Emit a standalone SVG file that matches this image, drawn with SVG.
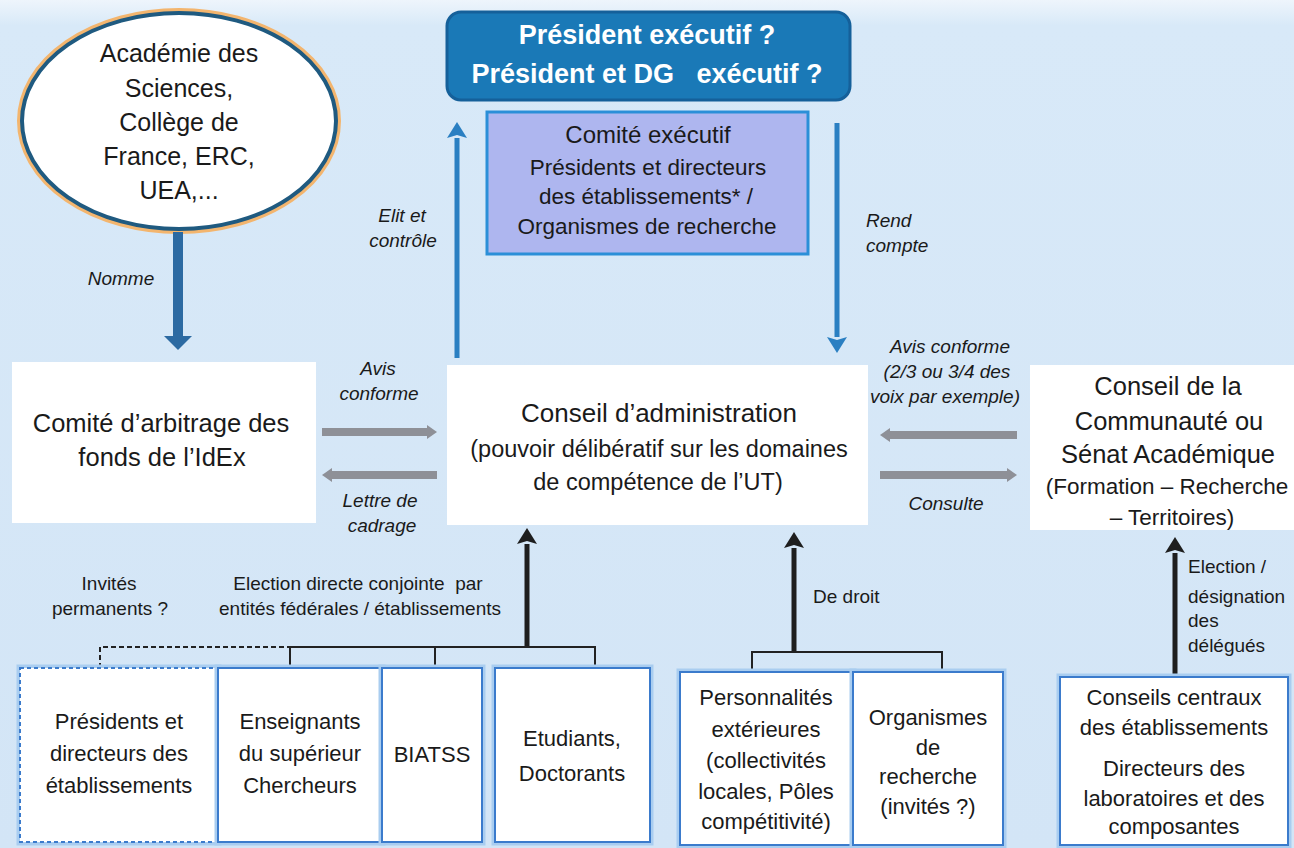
<svg xmlns="http://www.w3.org/2000/svg" width="1294" height="848" viewBox="0 0 1294 848">
<defs>
<linearGradient id="bg" x1="0" y1="0" x2="0" y2="1">
<stop offset="0" stop-color="#eef5fc"/>
<stop offset="0.03" stop-color="#d8e9f8"/>
<stop offset="1" stop-color="#d3e5f6"/>
</linearGradient>
<marker id="hBlue" markerUnits="userSpaceOnUse" viewBox="0 0 16 20" refX="0" refY="10" markerWidth="16" markerHeight="20" orient="auto"><path d="M0,0 L16,10 L0,20 L3,10 z" fill="#2a7fc2"/></marker>
<marker id="hNavy" markerUnits="userSpaceOnUse" viewBox="0 0 14 28" refX="0" refY="14" markerWidth="14" markerHeight="28" orient="auto"><path d="M0,0 L14,14 L0,28 z" fill="#2c6aa2"/></marker>
<marker id="hGrey" markerUnits="userSpaceOnUse" viewBox="0 0 10 14" refX="0" refY="7" markerWidth="10" markerHeight="14" orient="auto"><path d="M0,0 L10,7 L0,14 z" fill="#8e9097"/></marker>
<marker id="hBlack" markerUnits="userSpaceOnUse" viewBox="0 0 16 20" refX="0" refY="10" markerWidth="16" markerHeight="20" orient="auto"><path d="M0,0 L16,10 L0,20 L3,10 z" fill="#1e1e1e"/></marker>
<style>
text{font-family:"Liberation Sans",Arial,sans-serif;fill:#1a1a1a;text-anchor:middle}
.it{font-style:italic;font-size:19px}
.lb{font-size:19px}
.wbox{fill:#ffffff}
.bbox{fill:#ffffff;stroke:#3b7bcc;stroke-width:2}
.glow{fill:none;stroke:#a9cdf0;stroke-width:7}
.bt{font-size:22px}
.blue{stroke:#2a7fc2;stroke-width:5;fill:none}
.grey{stroke:#8e9097;stroke-width:8;fill:none}
.black{stroke:#1e1e1e;stroke-width:5;fill:none}
.br{stroke:#222;stroke-width:2;fill:none}
</style>
</defs>
<rect width="1294" height="848" fill="url(#bg)"/>

<g id="academie">
<ellipse cx="179" cy="121" rx="157" ry="108" fill="none" stroke="#f3b56e" stroke-width="10"/>
<ellipse cx="179" cy="121" rx="157" ry="108" fill="#ffffff" stroke="#1f5a80" stroke-width="4"/>
<text x="179" y="62" font-size="25">Académie des</text>
<text x="179" y="97" font-size="25">Sciences,</text>
<text x="179" y="131" font-size="25">Collège de</text>
<text x="179" y="165" font-size="25">France, ERC,</text>
<text x="179" y="199" font-size="25">UEA,...</text>
</g>

<g id="president">
<rect x="447" y="12" width="403" height="88" rx="14" fill="#1a79b7" stroke="#15609a" stroke-width="3"/>
<text x="647" y="44" font-size="27" font-weight="bold" style="fill:#ffffff">Président exécutif ?</text>
<text x="647" y="83" font-size="27" font-weight="bold" style="fill:#ffffff" xml:space="preserve">Président et DG   exécutif ?</text>
</g>

<g id="comite-executif">
<rect x="487" y="112" width="321" height="142" fill="#aeb6ef" stroke="#2b8fd8" stroke-width="3"/>
<text x="648" y="143" font-size="24">Comité exécutif</text>
<text x="648" y="175" font-size="22.5">Présidents et directeurs</text>
<text x="646" y="204" font-size="22.5">des établissements* /</text>
<text x="647" y="234" font-size="22.5">Organismes de recherche</text>
</g>

<g id="comite-arbitrage">
<rect class="wbox" x="12" y="362" width="304" height="161"/>
<text x="161" y="432" font-size="25.5">Comité d’arbitrage des</text>
<text x="162" y="466" font-size="25.5">fonds de l’IdEx</text>
</g>

<g id="conseil-administration">
<rect class="wbox" x="447" y="365" width="421" height="160"/>
<text x="659" y="422" font-size="26">Conseil d’administration</text>
<text x="659" y="457" font-size="23.5">(pouvoir délibératif sur les domaines</text>
<text x="658" y="490" font-size="23.5">de compétence de l’UT)</text>
</g>

<g id="conseil-communaute">
<rect class="wbox" x="1030" y="365" width="264" height="165"/>
<text x="1168" y="395" font-size="25.5">Conseil de la</text>
<text x="1169" y="430" font-size="25.5">Communauté ou</text>
<text x="1168" y="463" font-size="25.5">Sénat Académique</text>
<text x="1167" y="494" font-size="22.5">(Formation – Recherche</text>
<text x="1172" y="525" font-size="22.5">– Territoires)</text>
</g>

<g id="connectors">
<line x1="178" y1="232" x2="178" y2="336" stroke="#2c6aa2" stroke-width="10" marker-end="url(#hNavy)"/>
<line class="blue" x1="457" y1="358" x2="457" y2="138" marker-end="url(#hBlue)"/>
<line class="blue" x1="837" y1="123" x2="837" y2="337" marker-end="url(#hBlue)"/>
<line class="grey" x1="322" y1="432" x2="427" y2="432" marker-end="url(#hGrey)"/>
<line class="grey" x1="437" y1="475" x2="332" y2="475" marker-end="url(#hGrey)"/>
<line class="grey" x1="1017" y1="435" x2="890" y2="435" marker-end="url(#hGrey)"/>
<line class="grey" x1="880" y1="475" x2="1007" y2="475" marker-end="url(#hGrey)"/>
<line class="black" x1="527" y1="648" x2="527" y2="544" marker-end="url(#hBlack)"/>
<line class="black" x1="794" y1="653" x2="794" y2="548" marker-end="url(#hBlack)"/>
<line class="black" x1="1175" y1="677" x2="1175" y2="553" marker-end="url(#hBlack)"/>
<path class="br" d="M100,668 V647 H290" stroke-dasharray="5,3"/>
<path class="br" d="M290,668 V647 H595 V668 M435,647 V668"/>
<path class="br" d="M752,672 V652 H942 V672"/>
<text class="it" x="121" y="285">Nomme</text>
<text class="it" x="402" y="222">Elit et</text>
<text class="it" x="403" y="247">contrôle</text>
<text class="it" x="866" y="227" style="text-anchor:start">Rend</text>
<text class="it" x="866" y="252" style="text-anchor:start">compte</text>
<text class="it" x="378" y="375">Avis</text>
<text class="it" x="379" y="400">conforme</text>
<text class="it" x="380" y="507">Lettre de</text>
<text class="it" x="382" y="532">cadrage</text>
<text class="it" x="950" y="353">Avis conforme</text>
<text class="it" x="947" y="378">(2/3 ou 3/4 des</text>
<text class="it" x="945" y="403">voix par exemple)</text>
<text class="it" x="946" y="510">Consulte</text>
<text class="lb" x="109" y="590">Invités</text>
<text class="lb" x="110" y="615">permanents ?</text>
<text class="lb" x="358" y="590" xml:space="preserve">Election directe conjointe  par</text>
<text class="lb" x="360" y="615">entités fédérales / établissements</text>
<text class="lb" x="813" y="603" style="text-anchor:start">De droit</text>
<text class="lb" x="1188" y="573" style="text-anchor:start">Election /</text>
<text class="lb" x="1188" y="603" style="text-anchor:start">désignation</text>
<text class="lb" x="1188" y="627" style="text-anchor:start">des</text>
<text class="lb" x="1188" y="652" style="text-anchor:start">délégués</text>
</g>

<g id="presidents-directeurs">
<rect class="glow" x="20" y="668" width="198" height="174"/>
<rect x="20" y="668" width="198" height="174" fill="#ffffff" stroke="#3b7bcc" stroke-width="2" stroke-dasharray="4,3"/>
<text class="bt" x="119" y="729">Présidents et</text>
<text class="bt" x="119" y="761">directeurs des</text>
<text class="bt" x="119" y="793">établissements</text>
</g>

<g id="enseignants">
<rect class="glow" x="218" y="668" width="164" height="174"/>
<rect class="bbox" x="218" y="668" width="164" height="174"/>
<text class="bt" x="300" y="729">Enseignants</text>
<text class="bt" x="300" y="761">du supérieur</text>
<text class="bt" x="300" y="793">Chercheurs</text>
</g>

<g id="biatss">
<rect class="glow" x="382" y="668" width="100" height="174"/>
<rect class="bbox" x="382" y="668" width="100" height="174"/>
<text class="bt" x="432" y="762">BIATSS</text>
</g>

<g id="etudiants">
<rect class="glow" x="495" y="668" width="155" height="174"/>
<rect class="bbox" x="495" y="668" width="155" height="174"/>
<text class="bt" x="572" y="746">Etudiants,</text>
<text class="bt" x="572" y="781">Doctorants</text>
</g>

<g id="personnalites">
<rect class="glow" x="680" y="672" width="173" height="173"/>
<rect class="bbox" x="680" y="672" width="173" height="173"/>
<text class="bt" x="766" y="705">Personnalités</text>
<text class="bt" x="766" y="737">extérieures</text>
<text class="bt" x="766" y="768">(collectivités</text>
<text class="bt" x="766" y="799">locales, Pôles</text>
<text class="bt" x="766" y="829">compétitivité)</text>
</g>

<g id="organismes">
<rect class="glow" x="853" y="672" width="150" height="173"/>
<rect class="bbox" x="853" y="672" width="150" height="173"/>
<text class="bt" x="928" y="725">Organismes</text>
<text class="bt" x="928" y="755">de</text>
<text class="bt" x="928" y="784">recherche</text>
<text class="bt" x="928" y="814">(invités ?)</text>
</g>

<g id="conseils-centraux">
<rect class="glow" x="1060" y="677" width="228" height="168"/>
<rect class="bbox" x="1060" y="677" width="228" height="168"/>
<text class="bt" x="1174" y="705">Conseils centraux</text>
<text class="bt" x="1174" y="735">des établissements</text>
<text class="bt" x="1174" y="776">Directeurs des</text>
<text class="bt" x="1174" y="806">laboratoires et des</text>
<text class="bt" x="1174" y="834">composantes</text>
</g>
</svg>
